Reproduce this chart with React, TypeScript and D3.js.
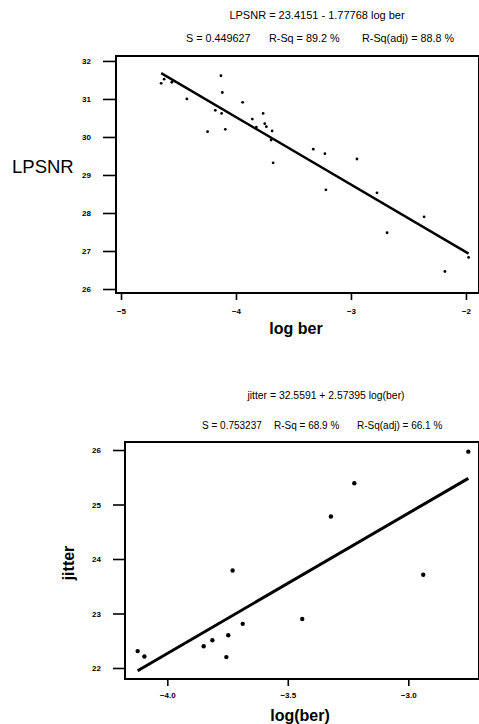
import React, { useEffect, useRef } from "react";
import * as d3 from "d3";

// top panel: LPSNR vs log ber
const lpsnrLogBer = [-4.651, -4.625, -4.558, -4.427, -4.247, -4.18, -4.131, -4.119, -4.125, -4.093,
  -3.942, -3.858, -3.823, -3.764, -3.75, -3.736, -3.686, -3.695, -3.677, -3.328, -3.227, -3.218,
  -2.948, -2.774, -2.686, -2.364, -2.183, -1.977];
const lpsnrValues = [31.41, 31.52, 31.44, 31.0, 30.14, 30.7, 31.61, 31.17, 30.62, 30.2,
  30.91, 30.47, 30.26, 30.62, 30.35, 30.27, 30.16, 29.92, 29.32, 29.68, 29.56, 28.61,
  29.42, 28.53, 27.48, 27.9, 26.46, 26.83];
const lpsnrFit = [[-4.651, 31.68], [-1.977, 26.93]];
const lpsnrYTicks = [26, 27, 28, 29, 30, 31, 32];
const lpsnrXTicks = [-5, -4, -3, -2];

// bottom panel: jitter vs log(ber)
const jitterLogBer = [-4.123, -4.095, -3.849, -3.813, -3.747, -3.755, -3.729, -3.687, -3.44,
  -3.321, -3.224, -2.938, -2.751];
const jitterValues = [22.31, 22.21, 22.4, 22.51, 22.6, 22.2, 23.79, 22.81, 22.9,
  24.78, 25.39, 23.71, 25.97];
const jitterFit = [[-4.123, 21.95], [-2.751, 25.48]];
const jitterYTicks = [22, 23, 24, 25, 26];
const jitterXTicks = [-4.0, -3.5, -3.0];

const FONT = "Liberation Sans, Arial, sans-serif";

type Panel = {
  xs: number[]; ys: number[]; fit: number[][];
  xTicks: number[]; yTicks: number[]; xFmt: (d: number) => string;
  xDomain: [number, number]; yDomain: [number, number];
  left: number; right: number; top: number; bottom: number;
  yTickLen: number; r: number; lineW: number;
  title: string; titleX: number; titleY: number; titleSize: number;
  stats: string[]; statsX: number[]; statsY: number; statsSize: number;
  xLabel: string; xLabelX: number; xLabelY: number; xLabelSize: number;
  xTickLabelY: number;
};

function drawPanel(svg: any, p: Panel) {
  const x = d3.scaleLinear().domain(p.xDomain).range([p.left, p.right]);
  const y = d3.scaleLinear().domain(p.yDomain).range([p.bottom, p.top]);
  const g = svg.append("g");

  g.append("rect")
    .attr("x", p.left).attr("y", p.top)
    .attr("width", p.right - p.left).attr("height", p.bottom - p.top)
    .attr("fill", "none").attr("stroke", "#000").attr("stroke-width", 2);

  const yAxis = g.append("g")
    .attr("transform", `translate(${p.left},0)`)
    .call(d3.axisLeft(y).tickValues(p.yTicks).tickSize(p.yTickLen).tickPadding(12).tickFormat(d3.format("d")));
  yAxis.select(".domain").remove();
  yAxis.selectAll("line").attr("stroke-width", 1.6);
  yAxis.selectAll("text").attr("font-family", FONT).attr("font-size", 8).attr("font-weight", "bold");

  const xAxis = g.append("g")
    .attr("transform", `translate(0,${p.bottom})`)
    .call(d3.axisBottom(x).tickValues(p.xTicks).tickSize(7).tickPadding(0).tickFormat(p.xFmt as any));
  xAxis.select(".domain").remove();
  xAxis.selectAll("line").attr("stroke-width", 1.6);
  xAxis.selectAll("text")
    .attr("y", p.xTickLabelY - p.bottom).attr("dy", "0.35em")
    .attr("font-family", FONT).attr("font-size", 8).attr("font-weight", "bold");

  const line = d3.line<number[]>().x(d => x(d[0])).y(d => y(d[1]));
  g.append("path").datum(p.fit).attr("d", line)
    .attr("fill", "none").attr("stroke", "#000").attr("stroke-width", p.lineW);

  g.selectAll("circle.pt").data(p.xs).enter().append("circle")
    .attr("class", "pt")
    .attr("cx", (d: number) => x(d))
    .attr("cy", (_: number, i: number) => y(p.ys[i]))
    .attr("r", p.r).attr("fill", "#000");

  g.append("text").attr("x", p.titleX).attr("y", p.titleY).attr("dy", "0.35em")
    .attr("text-anchor", "middle").attr("font-family", FONT).attr("font-size", p.titleSize)
    .text(p.title);
  p.stats.forEach((s, i) => {
    g.append("text").attr("x", p.statsX[i]).attr("y", p.statsY).attr("dy", "0.35em")
      .attr("font-family", FONT).attr("font-size", p.statsSize).text(s);
  });

  g.append("text").attr("x", p.xLabelX).attr("y", p.xLabelY).attr("dy", "0.35em")
    .attr("text-anchor", "middle").attr("font-family", FONT).attr("font-size", p.xLabelSize)
    .attr("font-weight", "bold").text(p.xLabel);
}

export default function App() {
  const ref = useRef<SVGSVGElement>(null);

  useEffect(() => {
    const svg = d3.select(ref.current);
    svg.selectAll("*").remove();

    drawPanel(svg, {
      xs: lpsnrLogBer, ys: lpsnrValues, fit: lpsnrFit,
      xTicks: lpsnrXTicks, yTicks: lpsnrYTicks, xFmt: d3.format("d"),
      xDomain: [-5.0436, -1.8866], yDomain: [25.895, 32.13],
      left: 116, right: 479, top: 56, bottom: 293,
      yTickLen: 13, r: 1.4, lineW: 2.4,
      title: "LPSNR = 23.4151 - 1.77768 log ber", titleX: 317, titleY: 15, titleSize: 11,
      stats: ["S = 0.449627", "R-Sq = 89.2 %", "R-Sq(adj) = 88.8 %"],
      statsX: [186, 269, 362], statsY: 38, statsSize: 10.8,
      xLabel: "log ber", xLabelX: 296, xLabelY: 328, xLabelSize: 16,
      xTickLabelY: 311,
    });

    drawPanel(svg, {
      xs: jitterLogBer, ys: jitterValues, fit: jitterFit,
      xTicks: jitterXTicks, yTicks: jitterYTicks, xFmt: d3.format(".1f"),
      xDomain: [-4.1755, -2.7066], yDomain: [21.798, 26.147],
      left: 125, right: 479, top: 442, bottom: 679,
      yTickLen: 12, r: 2.2, lineW: 3,
      title: "jitter = 32.5591 + 2.57395 log(ber)", titleX: 326, titleY: 395, titleSize: 10.4,
      stats: ["S = 0.753237", "R-Sq = 68.9 %", "R-Sq(adj) = 66.1 %"],
      statsX: [202, 274, 357], statsY: 425, statsSize: 10,
      xLabel: "log(ber)", xLabelX: 300, xLabelY: 715, xLabelSize: 16,
      xTickLabelY: 695,
    });

    svg.append("text").attr("x", 12).attr("y", 173)
      .attr("font-family", FONT).attr("font-size", 18.5).text("LPSNR");

    svg.append("text")
      .attr("transform", "translate(68,563) rotate(-90)")
      .attr("dy", "0.35em").attr("text-anchor", "middle")
      .attr("font-family", FONT).attr("font-size", 16).attr("font-weight", "bold")
      .text("jitter");
  }, []);

  return (
    <svg ref={ref} width={479} height={724}
      style={{ position: "absolute", left: 0, top: 0, background: "#fff" }} />
  );
}
